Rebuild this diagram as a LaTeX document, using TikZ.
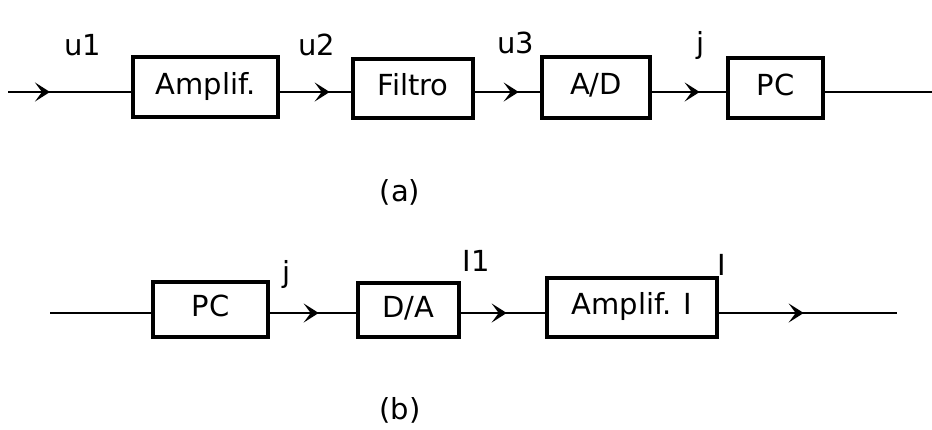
\documentclass[tikz,border=0pt]{standalone}
\usepackage{fontspec}
\setmainfont{DejaVu Sans}
\usetikzlibrary{arrows.meta,decorations.markings,calc}
\begin{document}
\begin{tikzpicture}[x=1pt,y=-1pt,
  blk/.style={draw, line width=3.4pt, inner sep=0pt, text height=21pt, text depth=7pt,
    font=\fontsize{29}{34}\selectfont},
  lbl/.style={font=\fontsize{29}{34}\selectfont, inner sep=0pt},
  conn/.style={line width=2.8pt},
  arr/.style={postaction={decorate}, decoration={markings,
    mark=at position #1 with {\arrow{Stealth[length=15pt,width=19pt,inset=7pt]}}}}]
\useasboundingbox (0,0) rectangle (932,429);
% row (a)
\coordinate (ya) at (0,92);
\coordinate (ina) at (8,92);
\coordinate (outa) at (932,92);
\node[blk, minimum width=145pt, minimum height=60pt] (amp) at (205.5,87) {Amplif.};
\node[blk, minimum width=120pt, minimum height=59pt] (fil) at (413,88.5) {Filtro};
\node[blk, minimum width=108pt, minimum height=61pt] (ad) at (596,87.5) {A/D};
\node[blk, minimum width=95pt, minimum height=60pt] (pca) at (775.5,88) {PC};
\draw[conn, arr=42pt] (ina) -- (amp.west |- ya);
\draw[conn, arr=50pt] (amp.east |- ya) -- (fil.west |- ya);
\draw[conn, arr=44pt] (fil.east |- ya) -- (ad.west |- ya);
\draw[conn, arr=48pt] (ad.east |- ya) -- (pca.west |- ya);
\draw[conn] (pca.east |- ya) -- (outa);
\node[lbl] (u1) at (83,45) {u1};
\node[lbl] (u2) at (317,45) {u2};
\node[lbl] (u3) at (516,43) {u3};
\node[lbl] (ja) at (701,45) {j};
\node[lbl] (capa) at (400,192) {(a)};
% row (b)
\coordinate (yb) at (0,313);
\coordinate (inb) at (50,313);
\coordinate (outb) at (897,313);
\node[blk, minimum width=115pt, minimum height=55pt] (pcb) at (210.5,309.5) {PC};
\node[blk, minimum width=101pt, minimum height=54pt] (da) at (408.5,310) {D/A};
\node[blk, minimum width=170pt, minimum height=59pt] (ampi) at (632,307.5) {Amplif. I};
\draw[conn] (inb) -- (pcb.west |- yb);
\draw[conn, arr=49pt] (pcb.east |- yb) -- (da.west |- yb);
\draw[conn, arr=46pt] (da.east |- yb) -- (ampi.west |- yb);
\draw[conn, arr=85pt] (ampi.east |- yb) -- (outb);
\node[lbl] (jb) at (287,274) {j};
\node[lbl] (i1) at (476,261) {I1};
\node[lbl] (ib) at (722,265) {I};
\node[lbl] (capb) at (400,410) {(b)};
\end{tikzpicture}
\end{document}
